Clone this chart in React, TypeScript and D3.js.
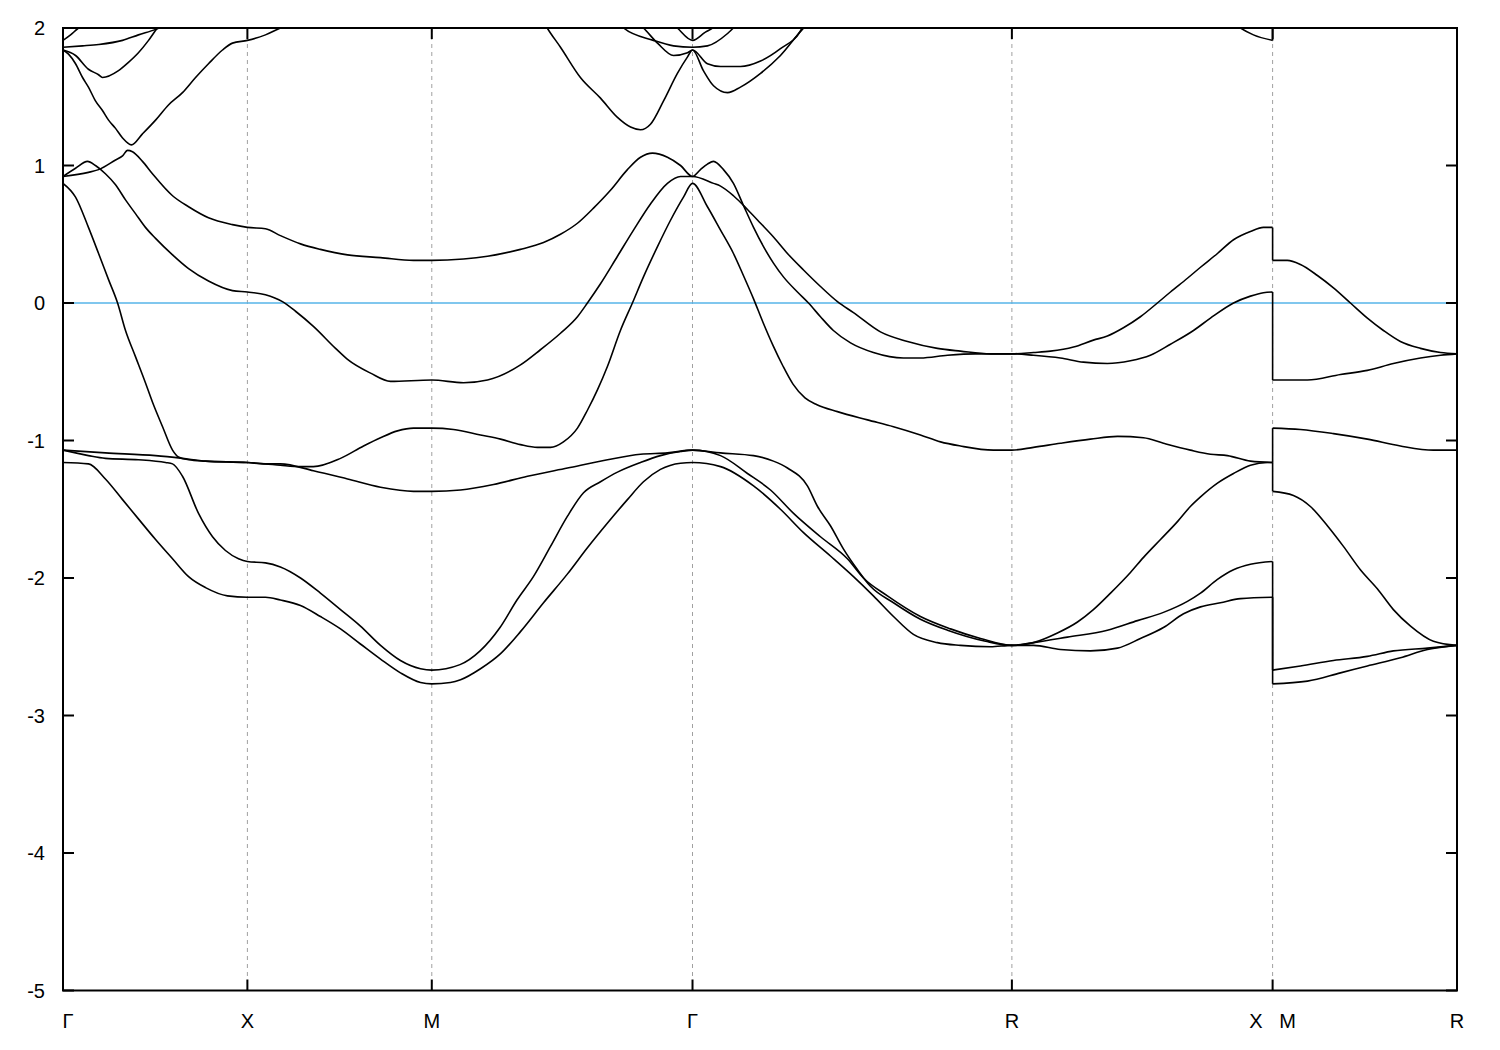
import React, { useRef, useEffect } from 'react';
import * as d3 from 'd3';

// high-symmetry path  Γ-X-M-Γ-R-X|M-R  (k in units of Γ-X)
const kTicks = [0, 1, 2, 3.414, 5.146, 6.56, 7.56];
const kLabels = ['Γ', 'X', 'M', 'Γ', 'R', 'X   M', 'R'];
const eTicks = [2, 1, 0, -1, -2, -3, -4, -5];

type Pt = [number, number];

// bands: [k, E(eV)], a repeated k marks the X|M jump
const band1: Pt[] = [
  [0, -1.16], [0.138, -1.17], [0.23, -1.28], [0.323, -1.43], [0.409, -1.57], [0.502, -1.72],
  [0.594, -1.86], [0.681, -1.99], [0.773, -2.07], [0.892, -2.13], [1, -2.14],
  [1.098, -2.14], [1.179, -2.16], [1.288, -2.2], [1.396, -2.28], [1.505, -2.37], [1.613, -2.48],
  [1.722, -2.59], [1.83, -2.69], [1.939, -2.76], [2, -2.77],
  [2.101, -2.76], [2.156, -2.74], [2.264, -2.66], [2.373, -2.55], [2.481, -2.39], [2.606, -2.18],
  [2.736, -1.97], [2.844, -1.78], [2.953, -1.6], [3.061, -1.43], [3.148, -1.3], [3.24, -1.21],
  [3.349, -1.165], [3.414, -1.16],
  [3.566, -1.19], [3.745, -1.33], [3.891, -1.5], [4.016, -1.67], [4.162, -1.84], [4.287, -1.99],
  [4.395, -2.13], [4.504, -2.28], [4.612, -2.41], [4.742, -2.47], [4.867, -2.49], [5.03, -2.5], [5.146, -2.49],
  [5.263, -2.49], [5.409, -2.52], [5.572, -2.53], [5.719, -2.51], [5.843, -2.44], [5.968, -2.36],
  [6.077, -2.26], [6.169, -2.21], [6.277, -2.18], [6.386, -2.15], [6.56, -2.14],
  [6.56, -2.77], [6.749, -2.75], [6.928, -2.69], [7.074, -2.64], [7.253, -2.58], [7.4, -2.52], [7.56, -2.49],
];

const band2: Pt[] = [
  [0, -1.07], [0.138, -1.11], [0.23, -1.13], [0.409, -1.14], [0.556, -1.16], [0.594, -1.17],
  [0.648, -1.26], [0.735, -1.53], [0.811, -1.7], [0.881, -1.8], [0.952, -1.86], [1, -1.88],
  [1.098, -1.89], [1.179, -1.92], [1.288, -2.0], [1.396, -2.11], [1.505, -2.23], [1.613, -2.35],
  [1.722, -2.49], [1.83, -2.6], [1.939, -2.66], [2, -2.67],
  [2.153, -2.63], [2.262, -2.53], [2.37, -2.36], [2.462, -2.16], [2.551, -1.99], [2.644, -1.77],
  [2.736, -1.55], [2.823, -1.38], [2.915, -1.3], [3.007, -1.23], [3.132, -1.16], [3.24, -1.11],
  [3.349, -1.08], [3.414, -1.07],
  [3.566, -1.11], [3.712, -1.24], [3.837, -1.36], [3.962, -1.53], [4.108, -1.7], [4.254, -1.86],
  [4.341, -2.0], [4.471, -2.13], [4.65, -2.28], [4.813, -2.37], [4.976, -2.44], [5.146, -2.49],
  [5.263, -2.47], [5.447, -2.43], [5.664, -2.38], [5.827, -2.31], [5.968, -2.25], [6.098, -2.17],
  [6.169, -2.11], [6.261, -2.01], [6.348, -1.94], [6.44, -1.9], [6.56, -1.88],
  [6.56, -2.67], [6.711, -2.64], [6.89, -2.6], [7.074, -2.57], [7.215, -2.53], [7.4, -2.51], [7.56, -2.49],
];

const band3: Pt[] = [
  [0, -1.07], [0.23, -1.09], [0.502, -1.11], [0.648, -1.13], [0.773, -1.15], [1, -1.16],
  [1.098, -1.17], [1.179, -1.17], [1.358, -1.22], [1.543, -1.28], [1.722, -1.34], [1.901, -1.37], [2, -1.37],
  [2.156, -1.36], [2.335, -1.32], [2.519, -1.26], [2.736, -1.2], [2.953, -1.14], [3.132, -1.1],
  [3.278, -1.09], [3.414, -1.07],
  [3.566, -1.09], [3.745, -1.11], [3.853, -1.15], [3.929, -1.2], [4.037, -1.33], [4.092, -1.48],
  [4.162, -1.62], [4.233, -1.79], [4.309, -1.94], [4.379, -2.06], [4.504, -2.18], [4.65, -2.3],
  [4.797, -2.38], [5.003, -2.46], [5.146, -2.49],
  [5.263, -2.47], [5.393, -2.4], [5.502, -2.32], [5.588, -2.23], [5.681, -2.11], [5.789, -1.96],
  [5.86, -1.85], [5.952, -1.72], [6.044, -1.59], [6.114, -1.48], [6.169, -1.41], [6.261, -1.31],
  [6.348, -1.24], [6.44, -1.18], [6.532, -1.16], [6.56, -1.16],
  [6.56, -1.37], [6.673, -1.4], [6.765, -1.48], [6.857, -1.62], [6.944, -1.77], [7.036, -1.94],
  [7.129, -2.08], [7.215, -2.23], [7.308, -2.35], [7.432, -2.46], [7.56, -2.49],
];

const band4: Pt[] = [
  [0, 0.87], [0.068, 0.77], [0.138, 0.55], [0.193, 0.36], [0.247, 0.17], [0.296, 0], [0.339, -0.2],
  [0.393, -0.39], [0.447, -0.58], [0.485, -0.72], [0.54, -0.9], [0.594, -1.07], [0.626, -1.12],
  [0.681, -1.14], [0.773, -1.15], [1, -1.16],
  [1.098, -1.17], [1.179, -1.18], [1.288, -1.19], [1.358, -1.19], [1.505, -1.13], [1.63, -1.04],
  [1.722, -0.98], [1.814, -0.93], [1.901, -0.91], [2, -0.91],
  [2.118, -0.92], [2.264, -0.96], [2.373, -0.99], [2.481, -1.03], [2.573, -1.05], [2.644, -1.05],
  [2.714, -1.01], [2.79, -0.91], [2.844, -0.78], [2.899, -0.63], [2.953, -0.46], [3.023, -0.2],
  [3.088, 0], [3.148, 0.19], [3.224, 0.41], [3.294, 0.6], [3.365, 0.77], [3.414, 0.87],
  [3.495, 0.7], [3.566, 0.53], [3.636, 0.36], [3.69, 0.2], [3.745, 0.03], [3.796, -0.14],
  [3.851, -0.31], [3.905, -0.46], [3.959, -0.59], [4.024, -0.69], [4.089, -0.74], [4.2, -0.79],
  [4.363, -0.85], [4.504, -0.9], [4.65, -0.96], [4.759, -1.01], [4.867, -1.04], [5.046, -1.07], [5.146, -1.07],
  [5.263, -1.05], [5.409, -1.02], [5.572, -0.99], [5.719, -0.97], [5.86, -0.98], [5.968, -1.02],
  [6.114, -1.07], [6.223, -1.1], [6.315, -1.11], [6.44, -1.15], [6.56, -1.16],
  [6.56, -0.91], [6.711, -0.92], [6.89, -0.95], [7.074, -0.99], [7.253, -1.04], [7.432, -1.07], [7.56, -1.07],
];

const band5: Pt[] = [
  [0, 0.92], [0.068, 0.98], [0.133, 1.03], [0.176, 1.0], [0.23, 0.94], [0.285, 0.86], [0.339, 0.75],
  [0.393, 0.65], [0.447, 0.55], [0.502, 0.47], [0.594, 0.35], [0.681, 0.25], [0.789, 0.16],
  [0.919, 0.09], [1, 0.08],
  [1.098, 0.06], [1.19, 0.01], [1.261, -0.06], [1.358, -0.17], [1.478, -0.33], [1.543, -0.41],
  [1.668, -0.51], [1.776, -0.57], [2, -0.56],
  [2.172, -0.58], [2.302, -0.56], [2.481, -0.45], [2.589, -0.34], [2.698, -0.22], [2.79, -0.1],
  [2.844, 0], [2.915, 0.14], [3.007, 0.34], [3.094, 0.53], [3.186, 0.72], [3.278, 0.87],
  [3.349, 0.92], [3.414, 0.92],
  [3.528, 0.87], [3.566, 0.85], [3.636, 0.78], [3.712, 0.68], [3.783, 0.58], [3.853, 0.48],
  [3.929, 0.36], [4.016, 0.24], [4.108, 0.12], [4.2, 0.01], [4.287, -0.07], [4.433, -0.21],
  [4.58, -0.28], [4.742, -0.33], [4.867, -0.35], [5.03, -0.37], [5.146, -0.37],
  [5.263, -0.38], [5.409, -0.4], [5.534, -0.43], [5.664, -0.44], [5.789, -0.42], [5.897, -0.38],
  [6.006, -0.3], [6.131, -0.2], [6.223, -0.11], [6.348, 0], [6.44, 0.05], [6.51, 0.075], [6.56, 0.08],
  [6.56, -0.56], [6.749, -0.56], [6.928, -0.52], [7.074, -0.49], [7.215, -0.44], [7.362, -0.4],
  [7.471, -0.38], [7.56, -0.37],
];

const band6: Pt[] = [
  [0, 0.92], [0.138, 0.95], [0.193, 0.97], [0.285, 1.04], [0.323, 1.07], [0.35, 1.11], [0.377, 1.1],
  [0.431, 1.03], [0.485, 0.94], [0.594, 0.78], [0.681, 0.7], [0.789, 0.62], [0.919, 0.57], [1, 0.55],
  [1.098, 0.54], [1.179, 0.49], [1.288, 0.43], [1.396, 0.39], [1.543, 0.35], [1.722, 0.33],
  [1.901, 0.31], [2, 0.31],
  [2.172, 0.32], [2.302, 0.34], [2.481, 0.39], [2.606, 0.44], [2.698, 0.5], [2.79, 0.58],
  [2.877, 0.69], [2.969, 0.82], [3.061, 0.97], [3.132, 1.06], [3.197, 1.09], [3.278, 1.06],
  [3.349, 1.0], [3.414, 0.92],
  [3.457, 0.97], [3.495, 1.01], [3.528, 1.03], [3.582, 0.97], [3.636, 0.87], [3.69, 0.71],
  [3.745, 0.55], [3.799, 0.41], [3.853, 0.29], [3.907, 0.19], [3.983, 0.08], [4.043, 0],
  [4.108, -0.1], [4.178, -0.2], [4.271, -0.29], [4.395, -0.36], [4.558, -0.4], [4.65, -0.4],
  [4.797, -0.38], [4.948, -0.37], [5.146, -0.37],
  [5.263, -0.36], [5.355, -0.35], [5.48, -0.32], [5.588, -0.27], [5.664, -0.24], [5.751, -0.18],
  [5.843, -0.1], [5.935, 0], [6.006, 0.08], [6.098, 0.18], [6.169, 0.26], [6.261, 0.36],
  [6.348, 0.46], [6.44, 0.52], [6.51, 0.55], [6.56, 0.55],
  [6.56, 0.31], [6.64, 0.31], [6.711, 0.28], [6.803, 0.2], [6.89, 0.11], [6.982, 0], [7.074, -0.11],
  [7.161, -0.2], [7.253, -0.28], [7.362, -0.33], [7.471, -0.36], [7.56, -0.37],
];

// upper bands, cut by the top of the frame
const band7: Pt[] = [
  [0, 1.84], [0.03, 1.81], [0.068, 1.74], [0.106, 1.64], [0.138, 1.57], [0.176, 1.47], [0.214, 1.4],
  [0.247, 1.33], [0.285, 1.27], [0.323, 1.2], [0.371, 1.15], [0.431, 1.23], [0.502, 1.33],
  [0.572, 1.44], [0.648, 1.53], [0.719, 1.64], [0.789, 1.74], [0.865, 1.84], [0.919, 1.89],
  [1, 1.91], [1.098, 1.95], [1.179, 2.0], [1.234, 2.03],
];
const band8: Pt[] = [
  [0, 1.84], [0.068, 1.8], [0.138, 1.7], [0.193, 1.66], [0.214, 1.64], [0.301, 1.69], [0.355, 1.75],
  [0.409, 1.82], [0.464, 1.91], [0.512, 2.0], [0.54, 2.04],
];
const band9: Pt[] = [
  [0, 1.86], [0.106, 1.87], [0.193, 1.88], [0.323, 1.91], [0.409, 1.95], [0.502, 1.99], [0.556, 2.02],
];
const band10: Pt[] = [[0, 1.91], [0.041, 1.95], [0.084, 2.0], [0.106, 2.02]];
const band11: Pt[] = [
  [2.617, 2.02], [2.626, 2.0], [2.698, 1.86], [2.806, 1.64], [2.915, 1.49], [3.007, 1.35],
  [3.078, 1.28], [3.132, 1.26], [3.186, 1.3], [3.257, 1.47], [3.332, 1.67], [3.387, 1.79], [3.414, 1.84],
  [3.473, 1.69], [3.528, 1.58], [3.604, 1.53], [3.674, 1.57], [3.783, 1.67], [3.891, 1.8],
  [4.01, 1.99], [4.032, 2.02],
];
const band12: Pt[] = [
  [3.023, 2.02], [3.04, 2.0], [3.202, 1.91], [3.311, 1.87], [3.414, 1.86], [3.495, 1.87],
  [3.604, 1.96], [3.636, 2.0], [3.653, 2.02],
];
const band13: Pt[] = [
  [3.132, 2.02], [3.148, 2.0], [3.224, 1.89], [3.311, 1.8], [3.387, 1.82], [3.414, 1.84],
  [3.495, 1.74], [3.566, 1.72], [3.674, 1.72], [3.783, 1.76], [3.891, 1.85], [4.0, 1.98], [4.016, 2.02],
];
const band14: Pt[] = [[3.316, 2.02], [3.332, 2.0], [3.414, 1.91], [3.484, 1.97], [3.522, 2.0], [3.54, 2.02]];
const band15: Pt[] = [[6.364, 2.02], [6.386, 2.0], [6.456, 1.95], [6.56, 1.91], [6.56, 2.05]];

const bands = [band1, band2, band3, band4, band5, band6, band7, band8, band9, band10,
  band11, band12, band13, band14, band15];

const FONT = '"Liberation Sans", Arial, sans-serif';

export default function App() {
  const svgRef = useRef<SVGSVGElement>(null);

  useEffect(() => {
    if (!svgRef.current) return;
    const svg = d3.select(svgRef.current);
    svg.selectAll('*').remove();

    const x = d3.scaleLinear().domain([0, 7.56]).range([63, 1457]);
    const y = d3.scaleLinear().domain([-5, 2]).range([990.5, 28]);
    const [x0, x1] = x.range();
    const [y0, y1] = [y(2), y(-5)];

    svg.append('rect').attr('width', 1500).attr('height', 1050).attr('fill', '#fff');

    svg.append('defs').append('clipPath').attr('id', 'plot')
      .append('rect').attr('x', x0).attr('y', y0).attr('width', x1 - x0).attr('height', y1 - y0);

    // dashed lines at the symmetry points
    svg.append('g').selectAll('line')
      .data(kTicks.slice(1, -1))
      .join('line')
      .attr('x1', (d) => x(d)).attr('x2', (d) => x(d))
      .attr('y1', y0).attr('y2', y1)
      .attr('stroke', '#a0a0a0').attr('stroke-width', 1)
      .attr('stroke-dasharray', '4,4');

    // Fermi level
    svg.append('line')
      .attr('x1', x0).attr('x2', x1).attr('y1', y(0)).attr('y2', y(0))
      .attr('stroke', '#56b4e9').attr('stroke-width', 1.6);

    // bands
    const line = d3.line<Pt>().x((d) => x(d[0])).y((d) => y(d[1])).curve(d3.curveMonotoneX);
    const g = svg.append('g').attr('clip-path', 'url(#plot)');
    bands.forEach((b) => {
      const pieces: Pt[][] = [[b[0]]];
      for (let i = 1; i < b.length; i++) {
        if (b[i][0] === b[i - 1][0]) {
          g.append('line')
            .attr('x1', x(b[i][0])).attr('x2', x(b[i][0]))
            .attr('y1', y(b[i - 1][1])).attr('y2', y(b[i][1]))
            .attr('stroke', '#000').attr('stroke-width', 1.6);
          pieces.push([b[i]]);
        } else {
          pieces[pieces.length - 1].push(b[i]);
        }
      }
      pieces.filter((p) => p.length > 1).forEach((p) => {
        g.append('path').attr('d', line(p) as string)
          .attr('fill', 'none').attr('stroke', '#000').attr('stroke-width', 1.6)
          .attr('stroke-linejoin', 'round');
      });
    });

    // frame
    svg.append('rect')
      .attr('x', x0).attr('y', y0).attr('width', x1 - x0).attr('height', y1 - y0)
      .attr('fill', 'none').attr('stroke', '#000').attr('stroke-width', 2);

    const tl = 11;
    const ax = svg.append('g').attr('stroke', '#000').attr('stroke-width', 2);
    eTicks.forEach((e) => {
      ax.append('line').attr('x1', x0).attr('x2', x0 + tl).attr('y1', y(e)).attr('y2', y(e));
      ax.append('line').attr('x1', x1).attr('x2', x1 - tl).attr('y1', y(e)).attr('y2', y(e));
    });
    kTicks.forEach((k) => {
      ax.append('line').attr('x1', x(k)).attr('x2', x(k)).attr('y1', y0).attr('y2', y0 + tl);
      ax.append('line').attr('x1', x(k)).attr('x2', x(k)).attr('y1', y1).attr('y2', y1 - tl);
    });

    svg.append('g').selectAll('text')
      .data(eTicks)
      .join('text')
      .attr('x', x0 - 18).attr('y', (d) => y(d))
      .attr('dy', '0.36em')
      .attr('text-anchor', 'end')
      .attr('font-family', FONT).attr('font-size', 20)
      .text((d) => String(d));

    svg.append('g').selectAll('text')
      .data(kTicks)
      .join('text')
      .attr('x', (d, i) => x(d) + (i === 0 ? 5 : 0)).attr('y', y1 + 37)
      .attr('text-anchor', 'middle')
      .attr('font-family', FONT).attr('font-size', 20)
      .style('white-space', 'pre')
      .text((_, i) => kLabels[i]);
  }, []);

  return (
    <svg
      ref={svgRef}
      width={1500}
      height={1050}
      style={{ position: 'absolute', left: 0, top: 0, display: 'block' }}
    />
  );
}
